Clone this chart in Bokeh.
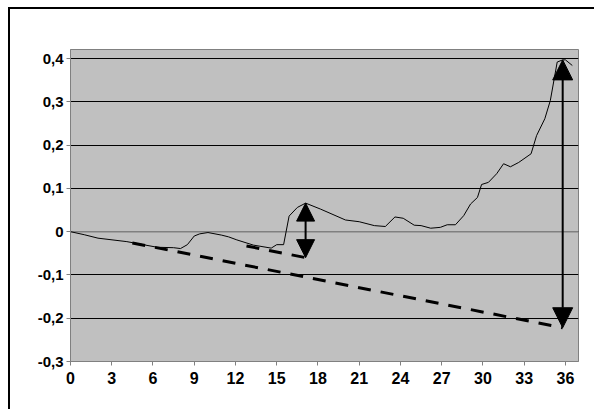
from bokeh.plotting import figure
from bokeh.models import Range1d, FixedTicker, CustomJSTickFormatter, Arrow, NormalHead, Label
from bokeh.embed import file_html
from bokeh.resources import INLINE

title_text = "PM-1R 4,5"
x_vals = [0, 1.0, 2.0, 4.1, 6.3, 7.5, 8.0, 8.5, 9.0, 9.4, 10.0, 11.0, 11.5, 12.1, 13.3, 14.6,
          15.0, 15.5, 15.9, 16.5, 17.1, 18.2, 20.0, 21.0, 22.1, 22.9, 23.6, 24.2, 25.0, 25.5,
          26.2, 26.9, 27.4, 28.0, 28.6, 29.1, 29.6, 29.9, 30.4, 31.0, 31.5, 32.0, 32.6, 33.5,
          33.9, 34.5, 34.9, 35.4, 35.8, 36.0, 36.5]
y_vals = [0.0, -0.007, -0.015, -0.023, -0.036, -0.037, -0.039, -0.030, -0.010, -0.005, -0.002,
          -0.008, -0.012, -0.019, -0.031, -0.038, -0.030, -0.030, 0.036, 0.056, 0.066, 0.052,
          0.027, 0.023, 0.014, 0.012, 0.034, 0.031, 0.015, 0.014, 0.008, 0.010, 0.016, 0.016,
          0.037, 0.064, 0.079, 0.109, 0.114, 0.134, 0.157, 0.150, 0.160, 0.180, 0.222, 0.261,
          0.303, 0.392, 0.397, 0.397, 0.384]

trend_long_x = [4.5, 35.8]
trend_long_y = [-0.026, -0.222]
trend_short_x = [12.8, 17.1]
trend_short_y = [-0.033, -0.060]

arrow_small = (17.1, -0.060, 0.066)
arrow_big = (35.8, -0.222, 0.397)

x_ticks = list(range(0, 37, 3))
y_ticks = [-0.3, -0.2, -0.1, 0.0, 0.1, 0.2, 0.3, 0.4]

p = figure(width=594, height=409, output_backend="svg", toolbar_location=None,
           x_range=Range1d(0, 36.95), y_range=Range1d(-0.3, 0.421),
           min_border_left=70, min_border_right=16, min_border_top=49, min_border_bottom=48)
# outer chart border: only its top-left corner lies inside the window
p.styles = {"background": "linear-gradient(black, black) 8px 7px / 2px 100% no-repeat, "
                          "linear-gradient(black, black) 8px 7px / 100% 2px no-repeat, white"}
p.border_fill_color = None
p.background_fill_color = "#c0c0c0"
p.outline_line_color = "#808080"
p.outline_line_width = 1

p.xgrid.visible = False
p.ygrid.ticker = FixedTicker(ticks=y_ticks)
p.ygrid.grid_line_color = "black"
p.ygrid.grid_line_width = 1

font = "Liberation Sans"
for ax in (p.xaxis[0], p.yaxis[0]):
    ax.axis_line_color = "#808080"
    ax.major_tick_line_color = "#808080"
    ax.minor_tick_line_color = None
    ax.major_tick_in = 0
    ax.major_tick_out = 4
    ax.major_label_text_font = font
    ax.major_label_text_font_style = "bold"
    ax.major_label_text_font_size = "15px"
    ax.major_label_text_color = "black"

p.xaxis.ticker = FixedTicker(ticks=x_ticks)
p.xaxis.major_label_standoff = 6
p.xaxis.major_label_text_font_size = "16px"
p.yaxis.ticker = FixedTicker(ticks=y_ticks)
p.yaxis.major_label_standoff = 3
p.yaxis.formatter = CustomJSTickFormatter(code="""
if (Math.abs(tick) < 1e-9) { return "0"; }
return tick.toFixed(1).replace('.', ',');
""")

# zero line (category axis crossing)
p.line(x=[0, 36.95], y=[0, 0], line_color="#808080", line_width=1.5)

p.line(x=x_vals, y=y_vals, line_color="black", line_width=1)

p.line(x=trend_long_x, y=trend_long_y, line_color="black", line_width=3, line_dash="13 10")
p.line(x=trend_short_x, y=trend_short_y, line_color="black", line_width=3, line_dash="13 10")

for (ax_x, y0, y1), sz in ((arrow_small, 18), (arrow_big, 20)):
    p.add_layout(Arrow(x_start=ax_x, y_start=y0, x_end=ax_x, y_end=y1,
                       start=NormalHead(size=sz, fill_color="black", line_color="black"),
                       end=NormalHead(size=sz, fill_color="black", line_color="black"),
                       line_color="black", line_width=2))

p.add_layout(Label(x=17.0, y=0.451, text=title_text, text_align="center", text_baseline="middle",
                   text_font=font, text_font_style="bold", text_font_size="16px", text_color="black"))

open("out.html", "w").write(file_html(p, INLINE))
